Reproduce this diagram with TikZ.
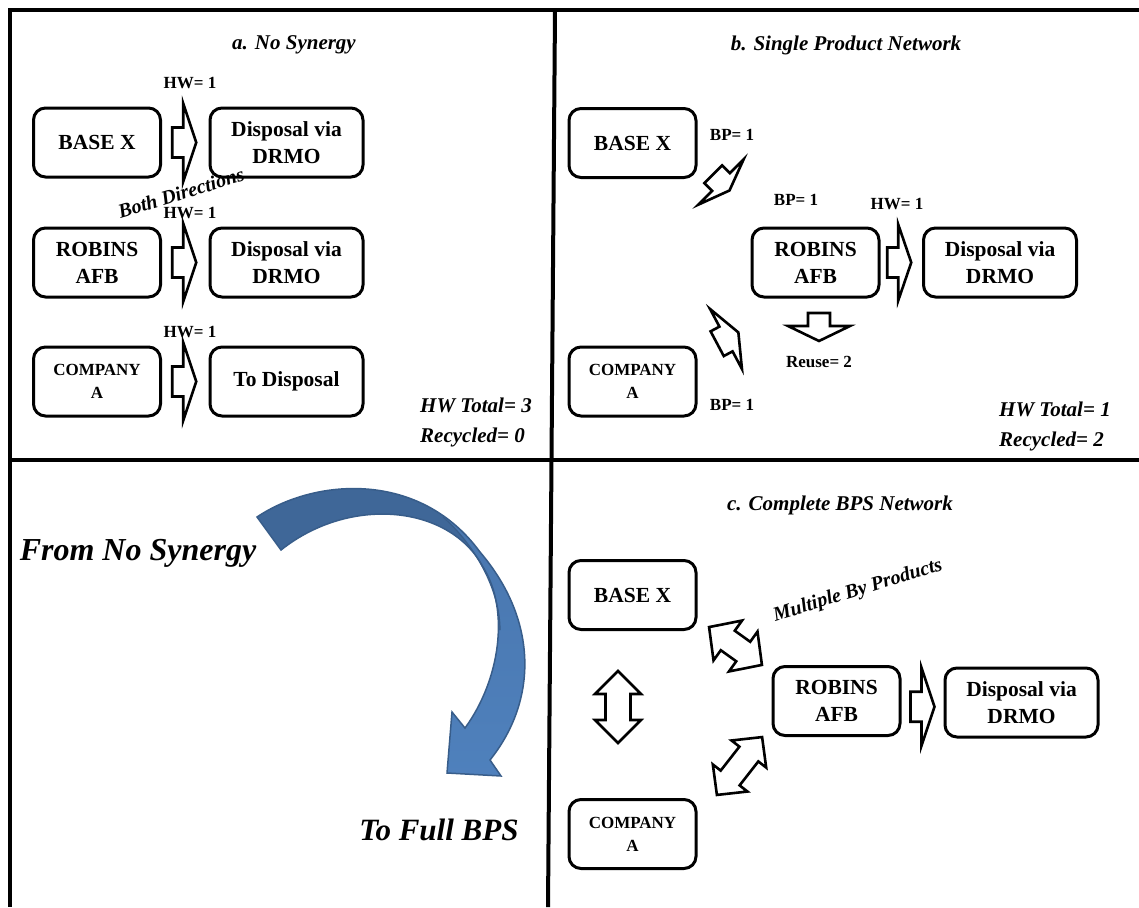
\documentclass[tikz,border=0pt]{standalone}
\usepackage{fontspec}
\setmainfont{Liberation Serif}
\usetikzlibrary{calc}
\definecolor{ribbondark}{RGB}{63,103,152}
\definecolor{ribbonmid}{RGB}{72,117,172}
\definecolor{ribbonlight}{RGB}{79,129,189}
\definecolor{ribbonedge}{RGB}{56,93,138}
\tikzset{
  box/.style={draw, line width=3pt, rounded corners=12pt, minimum width=127pt, minimum height=69pt,
    inner sep=0pt, align=center, font=\fontsize{21.5}{27}\selectfont\bfseries},
  widebox/.style={box, minimum width=153pt},
  smallbox/.style={box, font=\fontsize{17}{23}\selectfont\bfseries},
  lbl/.style={inner sep=0pt, font=\fontsize{17}{20}\selectfont\bfseries},
  ttl/.style={inner sep=0pt, font=\fontsize{21}{24}\selectfont\bfseries\itshape},
  bigttl/.style={inner sep=0pt, font=\fontsize{32}{36}\selectfont\bfseries\itshape},
  frame/.style={line width=4pt},
  arrowline/.style={draw, fill=white, line width=2.6pt, line join=miter},
  % fat arrow: shaft length, shaft half width, head half width, head length
  pics/fatarrow/.style n args={4}{code={
    \draw[arrowline] (-#1,-#2) -- (0,-#2) -- (0,-#3) -- (#4,0) -- (0,#3) -- (0,#2) -- (-#1,#2) -- cycle;}},
  % double arrow: half length, shaft half width, head half width, head length
  pics/dblarrow/.style n args={4}{code={
    \draw[arrowline] (-#1,0) -- ({-#1+#4},-#3) -- ({-#1+#4},-#2) -- ({#1-#4},-#2) -- ({#1-#4},-#3) -- (#1,0)
      -- ({#1-#4},#3) -- ({#1-#4},#2) -- ({-#1+#4},#2) -- ({-#1+#4},#3) -- cycle;}},
}
\begin{document}
\begin{tikzpicture}[x=1pt,y=-1pt]
	\useasboundingbox (0,0) rectangle (1139,907);
	\draw[frame] (1139,10) -- (10,10) -- (10,907);
	\draw[frame] (10,460) -- (1139,460);
	\draw[frame] (555,10) -- (548,907);

	% a. no synergy
	\node[ttl] (titlea) at (294,45) {a. No Synergy};
	\node[box] (basea) at (97,142.5) {BASE X};
	\node[widebox] (dispa) at (286.5,142.5) {Disposal via\\DRMO};
	\node[box] (robina) at (97,262.5) {ROBINS\\AFB};
	\node[widebox] (dispra) at (286.5,262.5) {Disposal via\\DRMO};
	\node[smallbox] (compa) at (97,381.5) {COMPANY\\A};
	\node[widebox] (todisp) at (286.5,381.5) {To Disposal};
	\foreach \y/\n in {83/1,213/2,332/3} {
		\node[lbl] (hwa\n) at (190,\y) {HW= 1};
	}
	\pic at ($(basea.east)!0.5!(dispa.west)+(-2,0)$) {fatarrow={11}{15}{39}{13}};
	\pic at ($(robina.east)!0.5!(dispra.west)+(-2,0)$) {fatarrow={11}{15}{39}{13}};
	\pic at ($(compa.east)!0.5!(todisp.west)+(-2,0)$) {fatarrow={11}{15}{39}{13}};
	\node[ttl, rotate=17, font=\fontsize{20}{22}\selectfont\bfseries\itshape] (bothdir) at (181,193) {Both Directions};
	\node[ttl, anchor=west] (totala) at (420,405) {HW Total= 3};
	\node[ttl, anchor=west] (recya) at (420,437) {Recycled= 0};

	% b. single product network
	\node[ttl] (titleb) at (846,45) {b. Single Product Network};
	\node[box] (baseb) at (632.5,143) {BASE X};
	\node[box] (robinb) at (815.5,262.5) {ROBINS\\AFB};
	\node[widebox] (dispb) at (1000,262.5) {Disposal via\\DRMO};
	\node[smallbox] (compb) at (632.5,381.5) {COMPANY\\A};
	\node[lbl] (bpb1) at (732,135) {BP= 1};
	\node[lbl] (bpb2) at (796,200) {BP= 1};
	\node[lbl] (hwb) at (897,204) {HW= 1};
	\node[lbl] (bpb3) at (732,405) {BP= 1};
	\node[lbl] (reuseb) at (819,362) {Reuse= 2};
	\pic[rotate=-45] at (721,182) {fatarrow={11}{12.5}{32}{12}};
	\pic[rotate=28] at (726,339) {fatarrow={10}{14}{34}{14}};
	\pic at ($(robinb.east)!0.5!(dispb.west)+(-3,0)$) {fatarrow={11}{15}{38}{13}};
	\pic[rotate=-90] at (819,326) {fatarrow={13}{11}{31}{15}};
	\node[ttl, anchor=west] (totalb) at (999,409) {HW Total= 1};
	\node[ttl, anchor=west] (recyb) at (999,441) {Recycled= 2};

	% c. complete bps network
	\node[ttl] (titlec) at (840,505) {c. Complete BPS Network};
	\node[box] (basec) at (632.5,595) {BASE X};
	\node[box] (robinc) at (836.5,701) {ROBINS\\AFB};
	\node[widebox] (dispc) at (1021.5,702.5) {Disposal via\\DRMO};
	\node[smallbox] (compc) at (632.5,834) {COMPANY\\A};
	\pic at ($(robinc.east)!0.5!(dispc.west)+(-1,5)$) {fatarrow={11}{15}{39}{13}};
	\pic[rotate=90] at (618,707) {dblarrow={36}{12.5}{23}{23}};
	\pic[rotate=-35.6] at (735.5,646) {dblarrow={32.5}{12}{24.5}{23}};
	\pic[rotate=52] at (739.5,766) {dblarrow={36.7}{12}{22}{21.5}};
	\node[ttl, rotate=17, font=\fontsize{20}{22}\selectfont\bfseries\itshape] (multi) at (858,591) {Multiple By Products};

	% from no synergy to full bps
	\node[bigttl] (from) at (138,553) {From No Synergy};
	\node[bigttl, font=\fontsize{31}{36}\selectfont\bfseries\itshape] (to) at (439,830) {To Full BPS};
	\begin{scope}
		\clip (257,517) .. controls (315,478) and (420,470) .. (480,552)
			.. controls (538,620) and (538,700) .. (490,760) -- (501,776) -- (447,773) -- (452,712) -- (465,728)
			.. controls (500,680) and (510,610) .. (483,567)
			.. controls (450,505) and (350,495) .. (281,550) -- cycle;
		\shade[top color=ribbonmid, bottom color=ribbonlight] (240,470) rectangle (560,790);
		\fill[ribbondark] (443,517) .. controls (475,545) and (500,590) .. (500,630) -- (300,640) -- (230,470) -- (443,470) -- cycle;
	\end{scope}
	\draw[ribbonedge, line width=1.5pt]
		(257,517) .. controls (315,478) and (420,470) .. (480,552)
		.. controls (538,620) and (538,700) .. (490,760) -- (501,776) -- (447,773) -- (452,712) -- (465,728)
		.. controls (500,680) and (510,610) .. (483,567)
		.. controls (450,505) and (350,495) .. (281,550) -- cycle;
	\draw[ribbonedge, line width=1.2pt] (443,517) .. controls (475,545) and (500,590) .. (500,630);
\end{tikzpicture}
\end{document}
